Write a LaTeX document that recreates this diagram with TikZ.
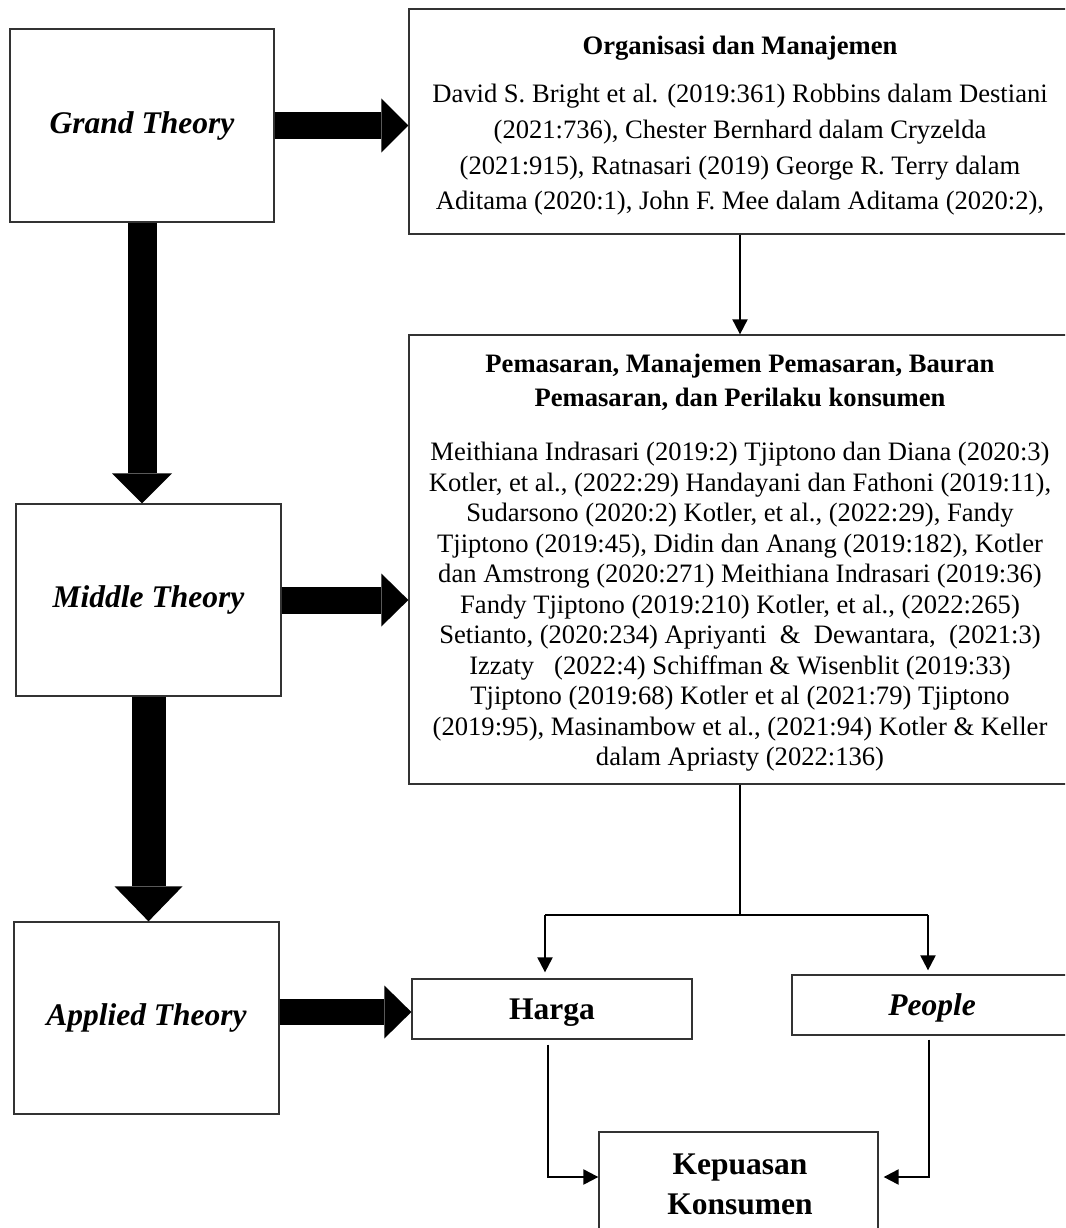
\documentclass[tikz,border=0pt]{standalone}
\usepackage{fontspec}
\setmainfont{Liberation Serif}
\usetikzlibrary{arrows.meta,calc}
\begin{document}
\begin{tikzpicture}[x=1pt,y=-1pt,
  box/.style={draw=black!80, line width=1.3pt, inner sep=0pt, fill=white},
  big/.style={font=\fontsize{31.5}{36}\selectfont\bfseries\itshape, inner sep=0pt},
  bigup/.style={font=\fontsize{31.5}{40}\selectfont\bfseries, inner sep=0pt, align=center},
  orgtxt/.style={font=\fontsize{26.6}{35.7}\selectfont, inner sep=0pt, align=center},
  pemtxt/.style={font=\fontsize{26.6}{30.5}\selectfont, inner sep=0pt, align=center},
  ttl/.style={font=\fontsize{26.6}{34}\selectfont\bfseries, inner sep=0pt, align=center},
  arr/.style={-{Triangle[length=15pt,width=15pt]}, line width=2.2pt},
  balanced/.style={text height=21pt, text depth=0pt}
]
\useasboundingbox (0,0) rectangle (1065,1228);
\fill[white] (0,0) rectangle (1065,1228);
\clip (0,0) rectangle (1065,1228);

% left column
\node[box, minimum width=264pt, minimum height=193pt, big] (grand) at (142,125.5) {Grand Theory};
\node[box, minimum width=265pt, minimum height=192pt, big] (middle) at (148.5,600) {Middle Theory};
\node[box, minimum width=265pt, minimum height=192pt, big] (applied) at (146.5,1018) {Applied Theory};

% right column
\node[box, minimum width=662pt, minimum height=225pt] (org) at (740,121.5) {};
\node[ttl] (orgtitle) at (740,48) {Organisasi dan Manajemen};
\node[orgtxt] (orgbody) at (740,150) {David S. Bright et al. (2019:361) Robbins dalam Destiani\\(2021:736), Chester Bernhard dalam Cryzelda\\(2021:915), Ratnasari (2019) George R. Terry dalam\\Aditama (2020:1), John F. Mee dalam Aditama (2020:2),};

\node[box, minimum width=662pt, minimum height=449pt] (pem) at (740,559.5) {};
\node[ttl] (pemtitle) at (740,382) {Pemasaran, Manajemen Pemasaran, Bauran\\Pemasaran, dan Perilaku konsumen};
\node[pemtxt] (pembody) at (740,607) {Meithiana Indrasari (2019:2) Tjiptono dan Diana (2020:3)\\Kotler, et al., (2022:29) Handayani dan Fathoni (2019:11),\\Sudarsono (2020:2) Kotler, et al., (2022:29), Fandy\\Tjiptono (2019:45), Didin dan Anang (2019:182), Kotler\\dan Amstrong (2020:271) Meithiana Indrasari (2019:36)\\Fandy Tjiptono (2019:210) Kotler, et al., (2022:265)\\Setianto, (2020:234) Apriyanti\ \ \&\ \ Dewantara,\ \ (2021:3)\\Izzaty\ \ \ (2022:4) Schiffman \& Wisenblit (2019:33)\\Tjiptono (2019:68) Kotler et al (2021:79) Tjiptono\\(2019:95), Masinambow et al., (2021:94) Kotler \& Keller\\dalam Apriasty (2022:136)};

\node[box, balanced, minimum width=280pt, minimum height=60pt, font=\fontsize{31.5}{36}\selectfont\bfseries] (harga) at (552,1009) {Harga};
\node[box, balanced, minimum width=280pt, minimum height=60pt, big] (people) at (932,1005) {People};
\node[box, minimum width=279pt, minimum height=113pt] (kep) at (738.5,1188.5) {};
\node[bigup] (keptxt) at (740,1184) {Kepuasan\\Konsumen};

% thick arrows
\draw[line width=26pt, -{Triangle[length=27pt,width=54pt,line width=0pt]}] (grand.east) -- (grand.east -| org.west);
\draw[line width=27pt, -{Triangle[length=27pt,width=53pt,line width=0pt]}] (middle.east) -- (middle.east -| pem.west);
\draw[line width=26pt, -{Triangle[length=27pt,width=53pt,line width=0pt]}] ([yshift=-3pt]applied.east |- harga.west) -- ([yshift=-3pt]harga.west);
\draw[line width=29pt, -{Triangle[length=30pt,width=60pt,line width=0pt]}] (grand.south) -- (grand.south |- middle.north);
\draw[line width=34pt, -{Triangle[length=35pt,width=68pt,line width=0pt]}] (middle.south) -- (middle.south |- applied.north);

% thin connectors
\draw[arr, line width=2pt] (org.south) -- (pem.north);
\coordinate (split) at (740,915);
\coordinate (hl) at (545,915);
\coordinate (pr) at (928,915);
\draw[line width=1.3pt] (pem.south) -- (split);
\draw[line width=2.5pt] (hl) -- (pr);
\draw[arr, shorten >=6pt] (hl) -- (hl |- harga.north);
\draw[arr, shorten >=4pt] (pr) -- (pr |- people.north);
\draw[arr] ($(harga.south)+(-4,5)$) |- ([yshift=11.5pt]kep.west);
\draw[arr, shorten >=5pt] ($(people.south)+(-3,4)$) |- ([yshift=11.5pt]kep.east);
\end{tikzpicture}
\end{document}
